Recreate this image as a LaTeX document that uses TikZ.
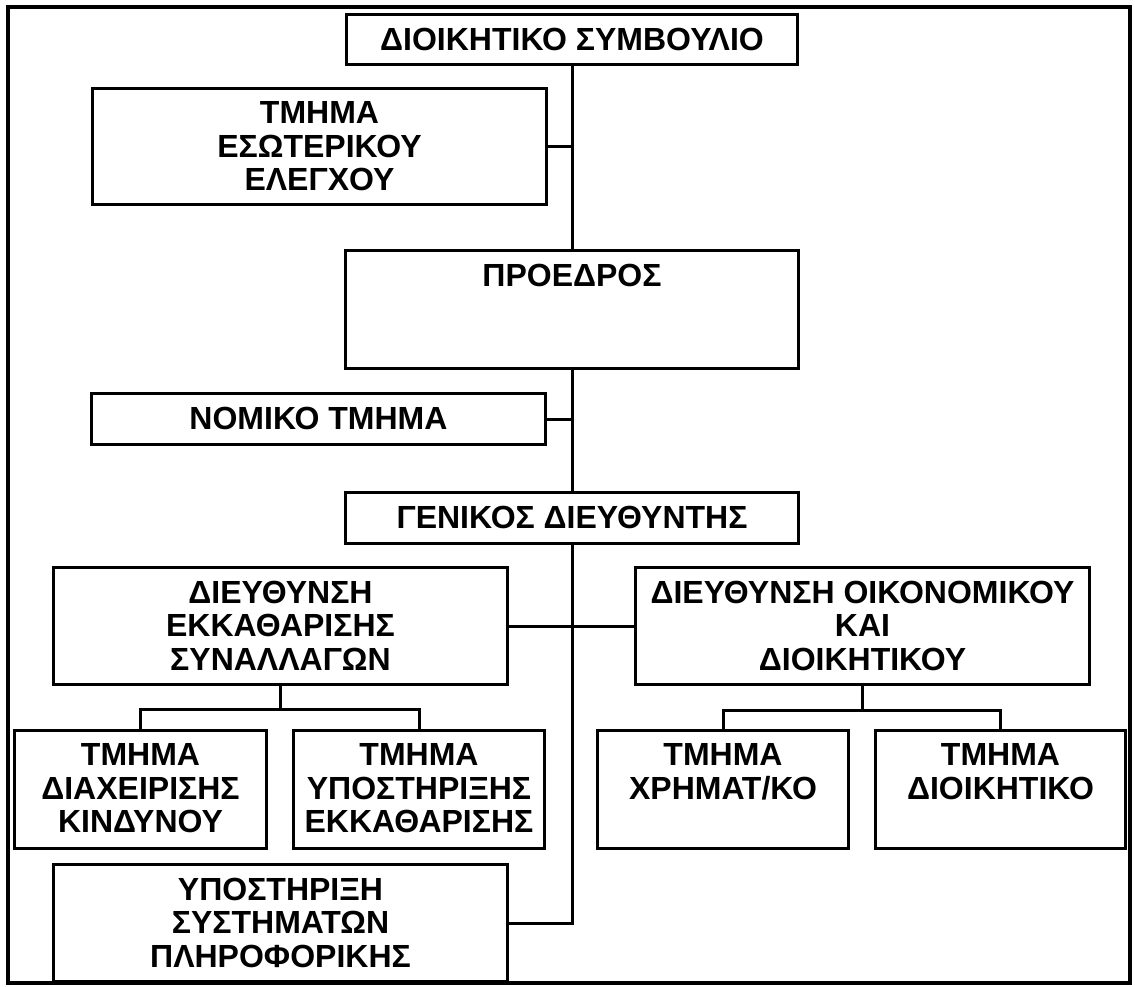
\documentclass[tikz,border=0pt]{standalone}
\usepackage{fontspec}
\newfontfamily\arialf{Liberation Sans}
\begin{document}
\begin{tikzpicture}[x=1pt,y=-1pt,
  box/.style={draw, line width=3pt, rectangle, inner sep=0pt, anchor=north west},
  lbl/.style={inner sep=0pt, anchor=north, align=center,
    font=\arialf\bfseries\fontsize{32pt}{33.5pt}\selectfont},
  conn/.style={line width=3pt},
  frame/.style={line width=3.5pt}]
\useasboundingbox (0,0) rectangle (1135,986);
\draw[frame] (8,7) rectangle (1130,983);
% boxes
\node[box, minimum width=451pt, minimum height=50pt] (top) at (345,13) {};
\node[box, minimum width=454pt, minimum height=116pt] (eso) at (91,87) {};
\node[box, minimum width=453pt, minimum height=118pt] (pres) at (344,249) {};
\node[box, minimum width=454pt, minimum height=51pt] (nom) at (90,392) {};
\node[box, minimum width=453pt, minimum height=51pt] (gen) at (344,491) {};
\node[box, minimum width=454pt, minimum height=117pt] (dek) at (52,566) {};
\node[box, minimum width=454pt, minimum height=117pt] (doik) at (634,566) {};
\node[box, minimum width=252pt, minimum height=118pt] (c1) at (13,729) {};
\node[box, minimum width=251pt, minimum height=118pt] (c2) at (292,729) {};
\node[box, minimum width=251pt, minimum height=118pt] (c3) at (596,729) {};
\node[box, minimum width=250pt, minimum height=118pt] (c4) at (874,729) {};
\node[box, minimum width=454pt, minimum height=117pt] (sys) at (52,863) {};
% labels
\node[lbl] (top-t) at ([yshift=-14.5pt]top.north) {ΔΙΟΙΚΗΤΙΚΟ ΣΥΜΒΟΥΛΙΟ};
\node[lbl] (eso-t) at ([yshift=-14.5pt]eso.north) {ΤΜΗΜΑ\\ΕΣΩΤΕΡΙΚΟΥ\\ΕΛΕΓΧΟΥ};
\node[lbl] (pres-t) at ([yshift=-14.5pt]pres.north) {ΠΡΟΕΔΡΟΣ};
\node[lbl] (nom-t) at ([yshift=-14.5pt]nom.north) {ΝΟΜΙΚΟ ΤΜΗΜΑ};
\node[lbl] (gen-t) at ([yshift=-14.5pt]gen.north) {ΓΕΝΙΚΟΣ ΔΙΕΥΘΥΝΤΗΣ};
\node[lbl] (dek-t) at ([yshift=-14.5pt]dek.north) {ΔΙΕΥΘΥΝΣΗ\\ΕΚΚΑΘΑΡΙΣΗΣ\\ΣΥΝΑΛΛΑΓΩΝ};
\node[lbl] (doik-t) at ([yshift=-14.5pt]doik.north) {ΔΙΕΥΘΥΝΣΗ ΟΙΚΟΝΟΜΙΚΟΥ\\ΚΑΙ\\ΔΙΟΙΚΗΤΙΚΟΥ};
\node[lbl] (c1-t) at ([yshift=-14.5pt]c1.north) {ΤΜΗΜΑ\\ΔΙΑΧΕΙΡΙΣΗΣ\\ΚΙΝΔΥΝΟΥ};
\node[lbl] (c2-t) at ([yshift=-14.5pt]c2.north) {ΤΜΗΜΑ\\ΥΠΟΣΤΗΡΙΞΗΣ\\ΕΚΚΑΘΑΡΙΣΗΣ};
\node[lbl] (c3-t) at ([yshift=-14.5pt]c3.north) {ΤΜΗΜΑ\\ΧΡΗΜΑΤ/ΚΟ};
\node[lbl] (c4-t) at ([yshift=-14.5pt]c4.north) {ΤΜΗΜΑ\\ΔΙΟΙΚΗΤΙΚΟ};
\node[lbl] (sys-t) at ([yshift=-14.5pt]sys.north) {ΥΠΟΣΤΗΡΙΞΗ\\ΣΥΣΤΗΜΑΤΩΝ\\ΠΛΗΡΟΦΟΡΙΚΗΣ};
% connectors
\draw[conn] (top.south) -- (pres.north);
\draw[conn] (pres.south) -- (gen.north);
\draw[conn] (gen.south) |- (sys.east);
\draw[conn] (eso.east) -- (eso.east -| top.south);
\draw[conn] (nom.east) -- (nom.east -| pres.south);
\draw[conn] (dek.east) -- (doik.west);
\coordinate (lj) at ([yshift=-23pt]dek.south);
\coordinate (rj) at ([yshift=-24pt]doik.south);
\draw[conn] (dek.south) -- (lj);
\draw[conn] (c1.north) |- (lj);
\draw[conn] (c2.north) |- (lj);
\draw[conn] (doik.south) -- (rj);
\draw[conn] (c3.north) |- (rj);
\draw[conn] (c4.north) |- (rj);
\end{tikzpicture}
\end{document}
